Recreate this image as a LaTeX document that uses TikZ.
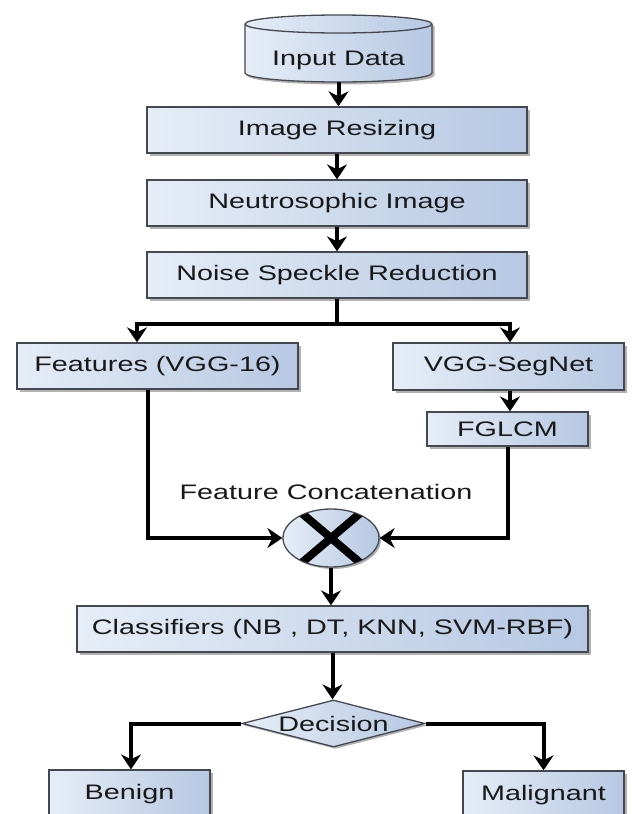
\documentclass[tikz,border=0pt]{standalone}
\usepackage{fontspec}
\setmainfont[FakeStretch=1.37]{Liberation Sans}
\usetikzlibrary{arrows.meta,shapes.geometric,shadows,calc}

\definecolor{boxlight}{RGB}{230,237,247}
\definecolor{boxdark}{RGB}{182,200,227}
\definecolor{boxline}{RGB}{70,72,80}
\definecolor{txt}{RGB}{25,25,25}

\tikzset{
  flowbox/.style={rectangle, draw=boxline, line width=1.3pt,
    left color=boxlight, right color=boxdark, text=txt,
    inner sep=0pt, anchor=center,
    drop shadow={shadow xshift=2.5pt, shadow yshift=-2.5pt, opacity=0.3, fill=black}},
  lbl/.style={text=txt, inner sep=0pt},
  arr/.style={draw=black, line width=4pt,
    -{Stealth[length=15pt,width=20pt,inset=5pt]}},
  link/.style={draw=black, line width=4pt},
}

\begin{document}
\begin{tikzpicture}[x=1pt, y=1pt, font=\fontsize{21}{24}\selectfont]
\useasboundingbox (0,0) rectangle (632,-814);
\clip (0,0) rectangle (632,-814);
\fill[white] (0,0) rectangle (632,-814);

% storage cylinder for the input data
\fill[black, opacity=0.3] (247.5,-26.5) -- (247.5,-75.5)
  arc[start angle=180, end angle=360, x radius=93.5, y radius=9]
  -- (434.5,-26.5)
  arc[start angle=0, end angle=180, x radius=93.5, y radius=9] -- cycle;
\path[draw=boxline, line width=1.3pt, left color=boxlight, right color=boxdark]
  (245,-24) -- (245,-73)
  arc[start angle=180, end angle=360, x radius=93.5, y radius=9]
  -- (432,-24)
  arc[start angle=0, end angle=180, x radius=93.5, y radius=9] -- cycle;
\draw[boxline, line width=1.3pt] (245,-24)
  arc[start angle=180, end angle=360, x radius=93.5, y radius=9];
\node[lbl, minimum width=180pt, minimum height=44pt] (indata) at (338.5,-60) {Input Data};

% processing chain
\node[flowbox, minimum width=380pt, minimum height=46pt] (ir) at (337,-130) {Image Resizing};
\node[flowbox, minimum width=380pt, minimum height=46pt] (ni) at (337,-203) {Neutrosophic Image};
\node[flowbox, minimum width=380pt, minimum height=46pt] (ns) at (337,-275) {Noise Speckle Reduction};

% two feature branches
\node[flowbox, minimum width=281pt, minimum height=46pt] (feat) at (157.5,-366) {Features (VGG-16)};
\node[flowbox, minimum width=231pt, minimum height=47pt] (vgg) at (508.5,-366.5) {VGG-SegNet};
\node[flowbox, minimum width=161pt, minimum height=34pt] (fg) at (507.5,-429) {FGLCM};

% concatenation junction
\node[lbl] (catlbl) at (326,-492) {Feature Concatenation};
\node[ellipse, draw=boxline, line width=1.3pt, left color=boxlight, right color=boxdark,
  minimum width=96pt, minimum height=58pt, inner sep=0pt,
  drop shadow={shadow xshift=2pt, shadow yshift=-2pt, opacity=0.3, fill=black}]
  (cat) at (331,-538) {};
\begin{scope}
  \clip (cat.center) ellipse[x radius=47.5pt, y radius=28.5pt];
  \draw[black, line width=8pt] ($(cat.center)+(-33,28)$) -- ($(cat.center)+(33,-28)$);
  \draw[black, line width=8pt] ($(cat.center)+(33,28)$) -- ($(cat.center)+(-33,-28)$);
\end{scope}

% classification and decision
\node[flowbox, minimum width=511pt, minimum height=46pt] (cls) at (332.5,-629) {Classifiers (NB , DT, KNN, SVM-RBF)};
\node[diamond, draw=boxline, line width=1.3pt, left color=boxlight, right color=boxdark,
  text=txt, minimum width=183pt, minimum height=47pt, aspect=3.9, inner sep=0pt,
  drop shadow={shadow xshift=2pt, shadow yshift=-2pt, opacity=0.3, fill=black}]
  (dec) at (333.5,-723.5) {Decision};
\node[flowbox, minimum width=161pt, minimum height=48pt] (ben) at (129.5,-794) {Benign};
\node[flowbox, minimum width=161pt, minimum height=48pt] (mal) at (543.5,-795) {Malignant};

% connectors
\draw[arr] (indata.south) -- (indata.south |- ir.north);
\draw[arr] (ir.south) -- (ni.north);
\draw[arr] (ni.south) -- (ns.north);
\coordinate (split) at ($(ns.south)+(0,-25)$);
\draw[link] (ns.south) -- (split);
\draw[arr] (split) -| ([xshift=-20.5pt]feat.north);
\draw[arr] (split) -| ([xshift=1.5pt]vgg.north);
\draw[arr] ([xshift=1.5pt]vgg.south) -- ([xshift=2.5pt]fg.north);
\draw[arr] ([xshift=-9.5pt]feat.south) |- (cat.west);
\draw[arr] (fg.south) |- (cat.east);
\draw[arr] (cat.south) -- (cat.south |- cls.north);
\draw[arr] (cls.south) -- (cls.south |- dec.north);
\draw[arr] (dec.west) -| ([xshift=1.5pt]ben.north);
\draw[arr] (dec.east) -| (mal.north);
\end{tikzpicture}
\end{document}
